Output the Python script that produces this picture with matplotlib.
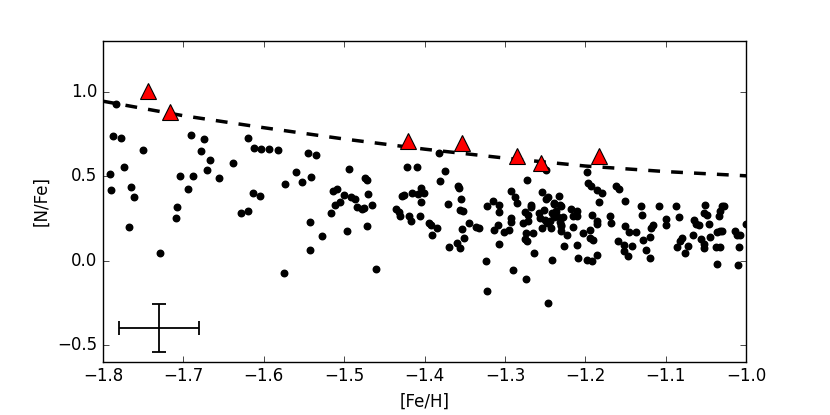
import numpy as np
import matplotlib
matplotlib.use('Agg')
import matplotlib.pyplot as plt
from matplotlib.ticker import MultipleLocator

plt.style.use('classic')
plt.rcParams['lines.scale_dashes'] = False

# field stars
feh = [-1.784, -1.788, -1.777, -1.750, -1.791, -1.774, -1.790, -1.765, -1.761, -1.768,
       -1.729, -1.690, -1.674, -1.678, -1.667, -1.671, -1.704, -1.688, -1.656, -1.694,
       -1.708, -1.709, -1.638, -1.620, -1.612, -1.603, -1.593, -1.582, -1.613, -1.605,
       -1.628, -1.619, -1.573, -1.560, -1.553, -1.541, -1.545, -1.535, -1.543, -1.543,
       -1.575, -1.528,
       -1.494, -1.514, -1.509, -1.500, -1.511, -1.505, -1.516, -1.491, -1.486, -1.484,
       -1.478, -1.475, -1.474, -1.471, -1.470, -1.465, -1.497, -1.471, -1.460, -1.436,
       -1.432, -1.430, -1.428, -1.426, -1.422, -1.410, -1.415, -1.408, -1.405, -1.401,
       -1.404, -1.419, -1.417, -1.406, -1.394, -1.392, -1.385, -1.391, -1.382, -1.375,
       -1.381, -1.371, -1.358, -1.357, -1.355, -1.356, -1.352, -1.345, -1.353, -1.351,
       -1.360, -1.356, -1.369, -1.336, -1.332, -1.324, -1.322, -1.322, -1.315, -1.307,
       -1.307, -1.309, -1.313, -1.307, -1.301, -1.295, -1.292, -1.288, -1.285, -1.293,
       -1.293, -1.290,
       -1.278, -1.273, -1.275, -1.271, -1.271, -1.268, -1.267, -1.274, -1.275, -1.273,
       -1.265, -1.264, -1.274, -1.246, -1.254, -1.249, -1.246, -1.249, -1.258, -1.257,
       -1.252, -1.250, -1.254, -1.248, -1.244, -1.243, -1.241, -1.239, -1.237, -1.235,
       -1.233, -1.230, -1.232, -1.230, -1.230, -1.223, -1.226, -1.241, -1.218, -1.215,
       -1.211, -1.211, -1.215, -1.211, -1.209, -1.203, -1.198, -1.197, -1.193, -1.186,
       -1.179, -1.183, -1.192, -1.186, -1.185, -1.194, -1.194, -1.191, -1.185, -1.198,
       -1.192, -1.169, -1.168, -1.162, -1.158, -1.151, -1.151, -1.146, -1.137, -1.159,
       -1.152, -1.152, -1.147, -1.142, -1.131, -1.130, -1.128, -1.125, -1.120, -1.118,
       -1.116, -1.119, -1.109, -1.100, -1.100, -1.087, -1.083, -1.080, -1.082, -1.086,
       -1.076, -1.072, -1.065, -1.063, -1.059, -1.066, -1.056, -1.052, -1.052, -1.051,
       -1.052, -1.049, -1.046, -1.045, -1.037, -1.033, -1.036, -1.034, -1.032, -1.030,
       -1.027, -1.036, -1.033, -1.030, -1.014, -1.012, -1.008, -1.009, -1.010, -1.000,
       -1.239, -1.232, -1.239, -1.228, -1.230]
nfe = [0.930, 0.735, 0.726, 0.657, 0.513, 0.553, 0.417, 0.438, 0.378, 0.199,
       0.045, 0.745, 0.722, 0.649, 0.594, 0.539, 0.500, 0.501, 0.488, 0.423,
       0.320, 0.252, 0.576, 0.728, 0.667, 0.659, 0.659, 0.653, 0.399, 0.382,
       0.283, 0.295, 0.456, 0.523, 0.468, 0.496, 0.637, 0.624, 0.226, 0.061,
       -0.073, 0.144,
       0.541, 0.413, 0.421, 0.389, 0.329, 0.346, 0.281, 0.379, 0.364, 0.317,
       0.307, 0.309, 0.491, 0.478, 0.393, 0.332, 0.177, 0.206, -0.049, 0.307,
       0.285, 0.262, 0.383, 0.391, 0.553, 0.556, 0.401, 0.393, 0.427, 0.399,
       0.344, 0.262, 0.232, 0.265, 0.224, 0.212, 0.193, 0.153, 0.637, 0.529,
       0.472, 0.336, 0.442, 0.431, 0.366, 0.301, 0.291, 0.222, 0.187, 0.136,
       0.104, 0.073, 0.081, 0.201, 0.195, 0.000, -0.181, 0.326, 0.350, 0.332,
       0.285, 0.211, 0.179, 0.100, 0.167, 0.179, 0.413, 0.379, 0.340, 0.250,
       0.226, -0.053,
       0.222, 0.478, 0.285, 0.271, 0.232, 0.330, 0.320, 0.163, 0.128, 0.118,
       0.163, 0.043, -0.108, -0.250, 0.409, 0.364, 0.374, 0.537, 0.281, 0.252,
       0.301, 0.242, 0.193, 0.222, 0.232, 0.193, 0.281, 0.340, 0.291, 0.262,
       0.383, 0.324, 0.226, 0.202, 0.173, 0.153, 0.084, 0.002, 0.305, 0.262,
       0.291, 0.265, 0.197, 0.093, 0.016, 0.163, 0.527, 0.462, 0.442, 0.419,
       0.399, 0.344, 0.271, 0.236, 0.218, 0.179, 0.134, 0.124, 0.035, 0.006,
       -0.004, 0.262, 0.222, 0.442, 0.423, 0.350, 0.206, 0.167, 0.167, 0.118,
       0.090, 0.059, 0.029, 0.084, 0.324, 0.271, 0.124, 0.063, 0.014, 0.193,
       0.212, 0.138, 0.326, 0.248, 0.212, 0.324, 0.258, 0.134, 0.114, 0.083,
       0.043, 0.084, 0.242, 0.218, 0.212, 0.153, 0.128, 0.100, 0.075, 0.330,
       0.281, 0.267, 0.218, 0.140, 0.083, 0.083, -0.020, 0.265, 0.291, 0.324,
       0.324, 0.167, 0.173, 0.173, 0.173, 0.153, 0.153, 0.079, -0.024, 0.218,
       0.333, 0.330, 0.261, 0.261, 0.212]

# N-rich stars
feh_rich = [-1.744, -1.717, -1.421, -1.353, -1.285, -1.255, -1.183]
nfe_rich = [1.007, 0.881, 0.708, 0.694, 0.619, 0.576, 0.619]

# dashed upper envelope
feh_line = [-1.8, -1.7, -1.6, -1.5, -1.4, -1.3, -1.2, -1.1, -1.0]
nfe_line = [0.944, 0.858, 0.787, 0.720, 0.660, 0.607, 0.560, 0.527, 0.502]

# typical error
err_x, err_y = -1.73, -0.40
err_feh, err_nfe = 0.05, 0.14

fig = plt.figure(figsize=(8.3, 4.15), dpi=100, facecolor='white')
ax = fig.add_subplot(111)
fig.subplots_adjust(left=0.124, right=0.899, top=0.901, bottom=0.128)

ax.scatter(feh, nfe, s=22, c='k', edgecolors='k', zorder=2)
ax.plot(feh_line, nfe_line, color='k', lw=2.5, dashes=(8.5, 8), zorder=3)
ax.plot(feh_rich, nfe_rich, ls='none', marker='^', ms=11, mfc='red',
        mec='k', mew=0.8, zorder=4)
ax.errorbar(err_x, err_y, xerr=err_feh, yerr=err_nfe, fmt='none',
            ecolor='k', elinewidth=1.3, capsize=5, capthick=1.3)

ax.set_xlim(-1.8, -1.0)
ax.set_ylim(-0.6, 1.3)
ax.xaxis.set_major_locator(MultipleLocator(0.1))
ax.yaxis.set_major_locator(MultipleLocator(0.5))
ax.set_xlabel('[Fe/H]')
ax.set_ylabel('[N/Fe]')

plt.savefig('out.png', dpi=100, facecolor='white')
